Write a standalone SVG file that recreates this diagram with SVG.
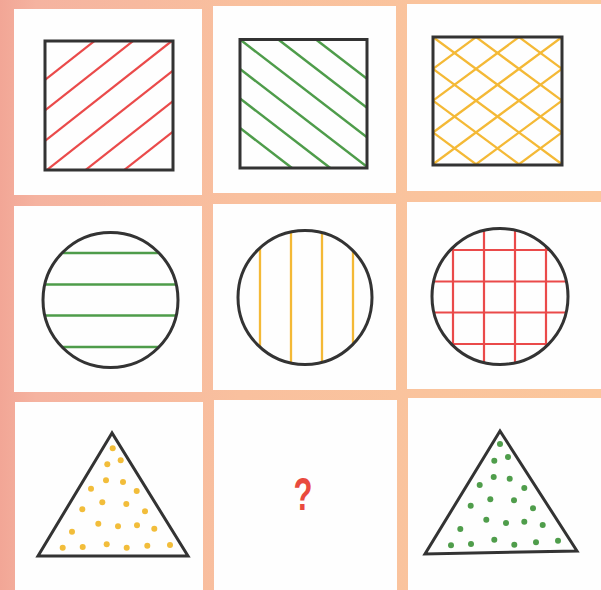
<svg xmlns="http://www.w3.org/2000/svg" width="601" height="590" viewBox="0 0 601 590">
<style>
.panel{fill:#fefefe}
.outline{fill:none;stroke:#333333;stroke-width:3;stroke-linejoin:miter}
.red{stroke:#ea4a4a;stroke-width:2.2;fill:none}
.green{stroke:#4e9c4a;stroke-width:2.5;fill:none}
.yellow{stroke:#f4b936;stroke-width:2.3;fill:none}
.dy{fill:#f2bd3a}
.dg{fill:#4f9d4b}
.q{font-family:"Liberation Sans",Arial,sans-serif;font-weight:bold;font-size:47px;fill:#e94a3d}
</style>
<defs>
<linearGradient id="bg" x1="0" y1="0" x2="1" y2="0">
<stop offset="0" stop-color="#f2a696"/>
<stop offset="0.06" stop-color="#f5b3a0"/>
<stop offset="0.4" stop-color="#f9c09e"/>
<stop offset="1" stop-color="#fbc79c"/>
</linearGradient>
<clipPath id="cs1"><rect x="45" y="41" width="128" height="129"/></clipPath>
<clipPath id="cs2"><rect x="240" y="39.5" width="127" height="128.5"/></clipPath>
<clipPath id="cs3"><rect x="433" y="37" width="129" height="128"/></clipPath>
<clipPath id="cc1"><circle cx="110.5" cy="300" r="67.5"/></clipPath>
<clipPath id="cc2"><circle cx="305" cy="297.5" r="67"/></clipPath>
<clipPath id="cc3"><circle cx="500" cy="296.5" r="68"/></clipPath>
</defs>
<rect x="0" y="0" width="601" height="590" fill="url(#bg)"/>

<g id="square-red">
<rect class="panel" x="14" y="9" width="188" height="186"/>
<g class="red" clip-path="url(#cs1)">
<line x1="45" y1="80" x2="173" y2="-21"/>
<line x1="45" y1="110.5" x2="173" y2="9.5"/>
<line x1="45" y1="141" x2="173" y2="40"/>
<line x1="45" y1="171.5" x2="173" y2="70.5"/>
<line x1="45" y1="202" x2="173" y2="101"/>
<line x1="45" y1="232.5" x2="173" y2="131.5"/>
</g>
<rect class="outline" x="45" y="41" width="128" height="129"/>
</g>

<g id="square-green">
<rect class="panel" x="213" y="6" width="183" height="187"/>
<g class="green" clip-path="url(#cs2)">
<line x1="240" y1="-19" x2="367" y2="78.8"/>
<line x1="240" y1="10" x2="367" y2="107.8"/>
<line x1="240" y1="39.5" x2="367" y2="137.3"/>
<line x1="240" y1="69" x2="367" y2="166.8"/>
<line x1="240" y1="98.5" x2="367" y2="196.3"/>
<line x1="240" y1="128" x2="367" y2="225.8"/>
</g>
<rect class="outline" x="240" y="39.5" width="127" height="128.5"/>
</g>

<g id="square-yellow">
<rect class="panel" x="407" y="4" width="194" height="187"/>
<g class="yellow" clip-path="url(#cs3)">
<line x1="433" y1="-26.6" x2="562" y2="68.9"/>
<line x1="433" y1="5.2" x2="562" y2="100.7"/>
<line x1="433" y1="37" x2="562" y2="132.5"/>
<line x1="433" y1="68.8" x2="562" y2="164.3"/>
<line x1="433" y1="100.6" x2="562" y2="196.1"/>
<line x1="433" y1="132.4" x2="562" y2="227.9"/>
<line x1="433" y1="68.9" x2="562" y2="-26.6"/>
<line x1="433" y1="100.7" x2="562" y2="5.2"/>
<line x1="433" y1="132.5" x2="562" y2="37"/>
<line x1="433" y1="164.3" x2="562" y2="68.8"/>
<line x1="433" y1="196.1" x2="562" y2="100.6"/>
<line x1="433" y1="227.9" x2="562" y2="132.4"/>
</g>
<rect class="outline" x="433" y="37" width="129" height="128"/>
</g>

<g id="circle-green">
<rect class="panel" x="14" y="206" width="188" height="186"/>
<g class="green" clip-path="url(#cc1)">
<line x1="40" y1="253" x2="180" y2="253"/>
<line x1="40" y1="284.5" x2="180" y2="284.5"/>
<line x1="40" y1="315.5" x2="180" y2="315.5"/>
<line x1="40" y1="347" x2="180" y2="347"/>
</g>
<circle class="outline" cx="110.5" cy="300" r="67.5"/>
</g>

<g id="circle-yellow">
<rect class="panel" x="213" y="204" width="183" height="186"/>
<g class="yellow" clip-path="url(#cc2)">
<line x1="260" y1="225" x2="260" y2="370"/>
<line x1="291" y1="225" x2="291" y2="370"/>
<line x1="322" y1="225" x2="322" y2="370"/>
<line x1="353" y1="225" x2="353" y2="370"/>
</g>
<circle class="outline" cx="305" cy="297.5" r="67"/>
</g>

<g id="circle-red">
<rect class="panel" x="407" y="202" width="194" height="187"/>
<g class="red" clip-path="url(#cc3)">
<line x1="453" y1="225" x2="453" y2="370"/>
<line x1="484" y1="225" x2="484" y2="370"/>
<line x1="515" y1="225" x2="515" y2="370"/>
<line x1="546" y1="225" x2="546" y2="370"/>
<line x1="428" y1="250" x2="572" y2="250"/>
<line x1="428" y1="281.5" x2="572" y2="281.5"/>
<line x1="428" y1="312.5" x2="572" y2="312.5"/>
<line x1="428" y1="344" x2="572" y2="344"/>
</g>
<circle class="outline" cx="500" cy="296.5" r="68"/>
</g>

<g id="triangle-yellow">
<rect class="panel" x="15" y="402" width="188" height="188"/>
<g class="dy">
<circle cx="112.7" cy="448.3" r="3"/>
<circle cx="107.3" cy="464.3" r="3"/>
<circle cx="120.7" cy="460.3" r="3"/>
<circle cx="106" cy="480.3" r="3"/>
<circle cx="123" cy="482" r="3"/>
<circle cx="91" cy="488.7" r="3"/>
<circle cx="136.7" cy="491" r="3"/>
<circle cx="102.3" cy="502.3" r="3"/>
<circle cx="126.3" cy="504" r="3"/>
<circle cx="82.3" cy="509.3" r="3"/>
<circle cx="145" cy="511.3" r="3"/>
<circle cx="98.3" cy="523.7" r="3"/>
<circle cx="118" cy="526.3" r="3"/>
<circle cx="137" cy="525.3" r="3"/>
<circle cx="154.3" cy="528.7" r="3"/>
<circle cx="72" cy="531.7" r="3"/>
<circle cx="62.7" cy="547.7" r="3"/>
<circle cx="82.7" cy="547" r="3"/>
<circle cx="106.7" cy="544.3" r="3"/>
<circle cx="126.7" cy="547.7" r="3"/>
<circle cx="147.3" cy="545.7" r="3"/>
<circle cx="170" cy="545" r="3"/>
</g>
<polygon class="outline" points="112,433 38,556 188,556"/>
</g>

<g id="unknown">
<rect class="panel" x="214" y="400" width="183" height="190"/>
<text class="q" transform="translate(303,510) scale(0.66,1)" text-anchor="middle">?</text>
</g>

<g id="triangle-green">
<rect class="panel" x="408" y="398" width="193" height="192"/>
<g class="dg">
<circle cx="500" cy="444" r="3"/>
<circle cx="494.3" cy="460.7" r="3"/>
<circle cx="508" cy="457" r="3"/>
<circle cx="493.7" cy="477" r="3"/>
<circle cx="509.7" cy="478.7" r="3"/>
<circle cx="479.7" cy="485" r="3"/>
<circle cx="524.3" cy="488" r="3"/>
<circle cx="490.3" cy="499.3" r="3"/>
<circle cx="514" cy="500.3" r="3"/>
<circle cx="470.7" cy="505.7" r="3"/>
<circle cx="533" cy="508.3" r="3"/>
<circle cx="486.3" cy="519.7" r="3"/>
<circle cx="506" cy="523" r="3"/>
<circle cx="524.3" cy="521.7" r="3"/>
<circle cx="542.7" cy="525" r="3"/>
<circle cx="460.3" cy="529" r="3"/>
<circle cx="451" cy="545.3" r="3"/>
<circle cx="471" cy="544" r="3"/>
<circle cx="494.3" cy="539.7" r="3"/>
<circle cx="514.3" cy="544.7" r="3"/>
<circle cx="536" cy="542.3" r="3"/>
<circle cx="558" cy="540.7" r="3"/>
</g>
<polygon class="outline" points="500,431 425,554 577,551"/>
</g>
</svg>
